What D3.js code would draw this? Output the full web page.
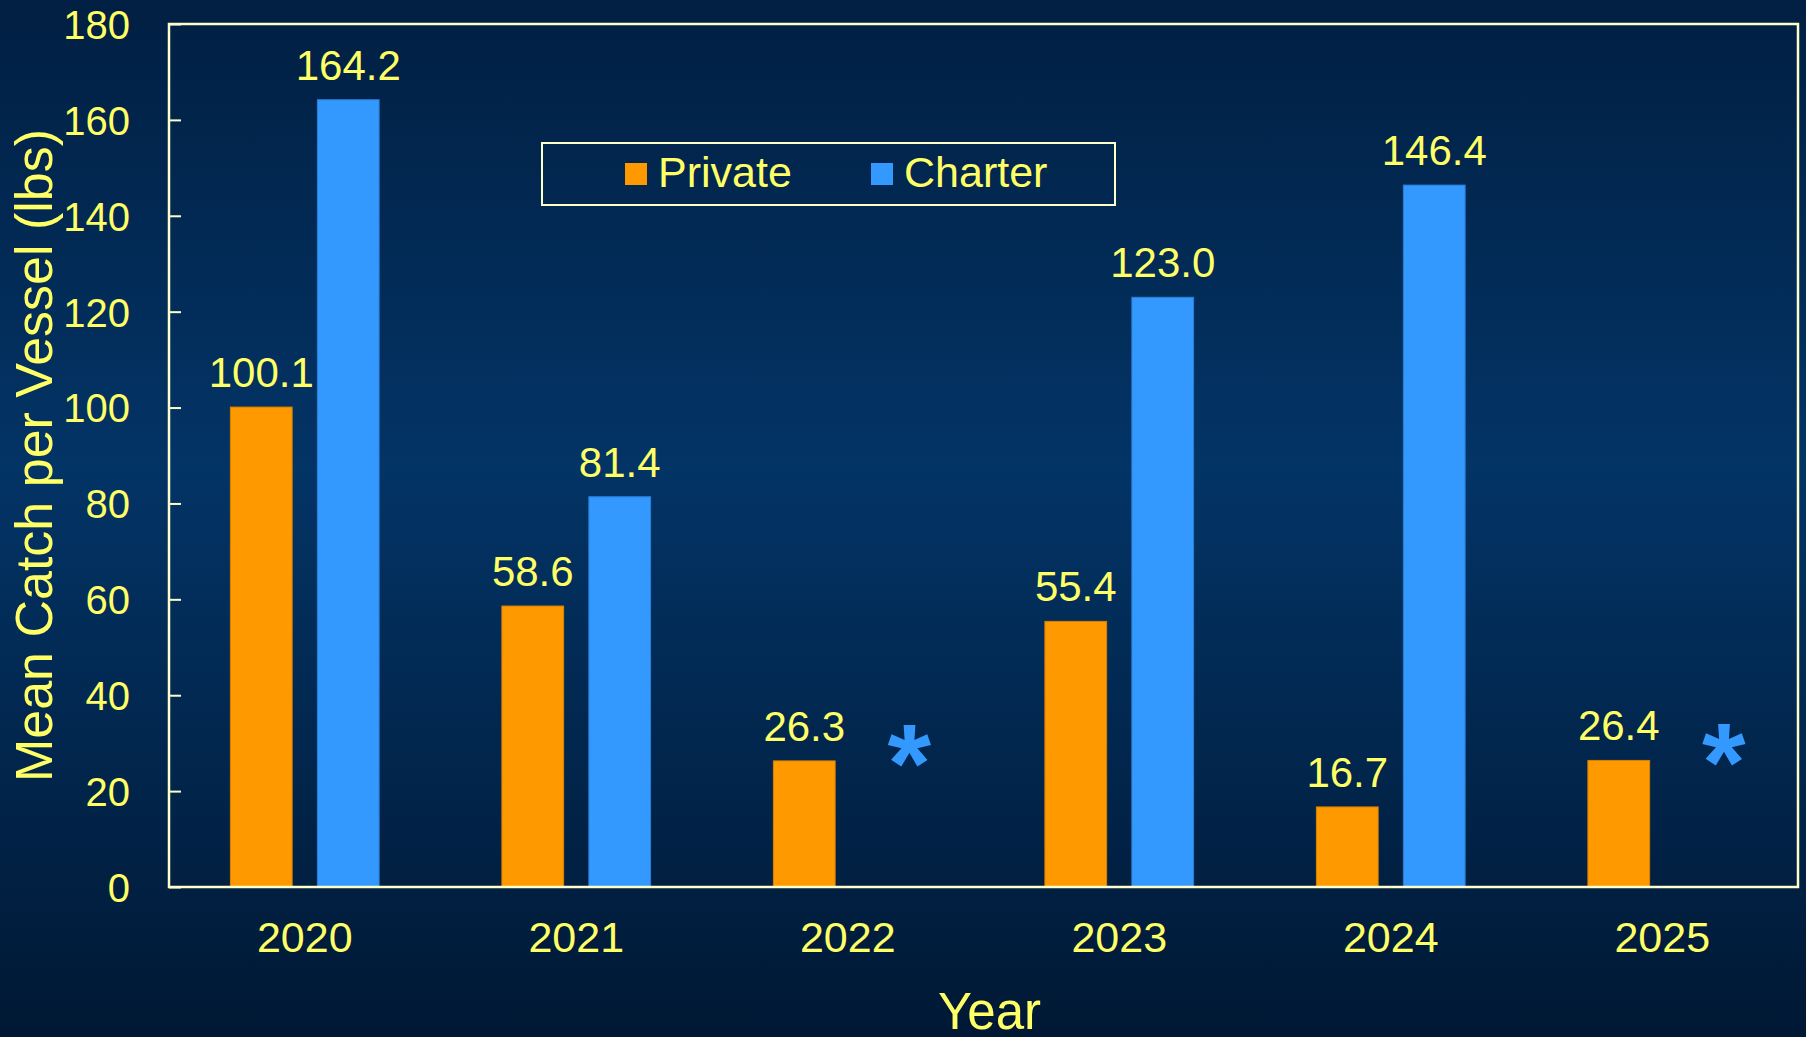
<!DOCTYPE html>
<html>
<head>
<meta charset="utf-8">
<script src="https://cdn.jsdelivr.net/npm/d3@7"></script>
<style>
  html, body { margin: 0; padding: 0; background: #012346; }
  svg { display: block; }
</style>
</head>
<body>
<svg id="chart" width="1806" height="1037"></svg>
<script>
// data
const years = ['2020', '2021', '2022', '2023', '2024', '2025'];
const seriesNames = ['Private', 'Charter'];
const privateVals = [100.1, 58.6, 26.3, 55.4, 16.7, 26.4];
const charterVals = [164.2, 81.4, null, 123.0, 146.4, null]; // null = no data (asterisk)
const yTicks = [0, 20, 40, 60, 80, 100, 120, 140, 160, 180];

const colors = { Private: '#FF9900', Charter: '#3399FF' };
const strokes = { Private: '#d98200', Charter: '#2b7fd6' };
const textColor = '#FFFF66';
const frameColor = '#FFFFCC';
const font = '"Liberation Sans", Arial, sans-serif';

const svg = d3.select('#chart');
const width = 1806, height = 1037;
const margin = { top: 24, right: 8, bottom: 150, left: 169 };
const plotW = width - margin.left - margin.right;
const plotH = height - margin.top - margin.bottom;

// background gradient
const defs = svg.append('defs');
const grad = defs.append('linearGradient')
  .attr('id', 'bg').attr('x1', 0).attr('y1', 0).attr('x2', 0).attr('y2', 1);
grad.append('stop').attr('offset', '0%').attr('stop-color', '#011f42');
grad.append('stop').attr('offset', '45%').attr('stop-color', '#033466');
grad.append('stop').attr('offset', '100%').attr('stop-color', '#001834');
svg.append('rect').attr('width', width).attr('height', height).attr('fill', 'url(#bg)');

// scales
const x = d3.scaleBand().domain(years).range([0, plotW]).padding(0);
const xs = d3.scaleBand().domain(seriesNames).range([0, x.bandwidth()])
  .paddingInner(0.29).paddingOuter(0.706);
const y = d3.scaleLinear().domain([0, 180]).range([plotH, 0]);

const g = svg.append('g').attr('transform', `translate(${margin.left},${margin.top})`);

const rows = years.map((yr, i) => ({ year: yr, Private: privateVals[i], Charter: charterVals[i] }));

// bars
const groups = g.selectAll('.grp').data(rows).enter().append('g')
  .attr('class', 'grp')
  .attr('transform', d => `translate(${x(d.year)},0)`);

seriesNames.forEach(s => {
  const withVal = groups.filter(d => d[s] != null);
  withVal.append('rect')
    .attr('x', xs(s))
    .attr('y', d => y(d[s]))
    .attr('width', xs.bandwidth())
    .attr('height', d => y(0) - y(d[s]))
    .attr('fill', colors[s])
    .attr('stroke', strokes[s])
    .attr('stroke-width', 1);
  withVal.append('text')
    .attr('x', xs(s) + xs.bandwidth() / 2)
    .attr('y', d => y(d[s]) - 20)
    .attr('text-anchor', 'middle')
    .attr('font-family', font)
    .attr('font-size', 42)
    .attr('fill', textColor)
    .text(d => d3.format('.1f')(d[s]));
});

// asterisk where charter has no data
groups.filter(d => d.Charter == null).append('text')
  .attr('x', xs('Charter') + xs.bandwidth() / 2 + 18)
  .attr('y', d => y(d.Private) + 41)
  .attr('text-anchor', 'middle')
  .attr('font-family', font)
  .attr('font-weight', 'bold')
  .attr('font-size', 112)
  .attr('fill', colors.Charter)
  .text('*');

// frame
g.append('rect')
  .attr('x', 0).attr('y', 0).attr('width', plotW).attr('height', plotH)
  .attr('fill', 'none').attr('stroke', frameColor).attr('stroke-width', 2.5);

// y axis (ticks inward)
const yAxis = g.append('g')
  .call(d3.axisLeft(y).tickValues(yTicks).tickSize(-12).tickPadding(39).tickFormat(d3.format('d')));
yAxis.select('.domain').remove();
yAxis.selectAll('line').attr('stroke', frameColor).attr('stroke-width', 2);
yAxis.selectAll('text')
  .attr('font-family', font).attr('font-size', 40).attr('fill', textColor)
  .attr('dy', '0.36em');

// x axis labels
const xAxis = g.append('g')
  .attr('transform', `translate(0,${plotH})`)
  .call(d3.axisBottom(x).tickSize(0).tickPadding(0));
xAxis.select('.domain').remove();
xAxis.selectAll('text')
  .attr('font-family', font).attr('font-size', 43).attr('fill', textColor)
  .attr('y', 65).attr('dy', 0);

// axis titles
svg.append('text')
  .attr('x', margin.left + plotW / 2 + 6)
  .attr('y', 1029)
  .attr('text-anchor', 'middle')
  .attr('font-family', font).attr('font-size', 51).attr('fill', textColor)
  .text('Year');

svg.append('text')
  .attr('transform', `translate(52,${margin.top + plotH / 2}) rotate(-90)`)
  .attr('text-anchor', 'middle')
  .attr('font-family', font).attr('font-size', 52).attr('fill', textColor)
  .text('Mean Catch per Vessel (lbs)');

// legend
const legend = svg.append('g').attr('transform', 'translate(542,143)');
legend.append('rect')
  .attr('width', 573).attr('height', 62)
  .attr('fill', 'none').attr('stroke', frameColor).attr('stroke-width', 2);
const legendX = [83, 329];
seriesNames.forEach((s, i) => {
  legend.append('rect')
    .attr('x', legendX[i]).attr('y', 20)
    .attr('width', 22).attr('height', 22)
    .attr('fill', colors[s]);
  legend.append('text')
    .attr('x', legendX[i] + 33).attr('y', 44)
    .attr('font-family', font).attr('font-size', 43).attr('fill', textColor)
    .text(s);
});
</script>
</body>
</html>
